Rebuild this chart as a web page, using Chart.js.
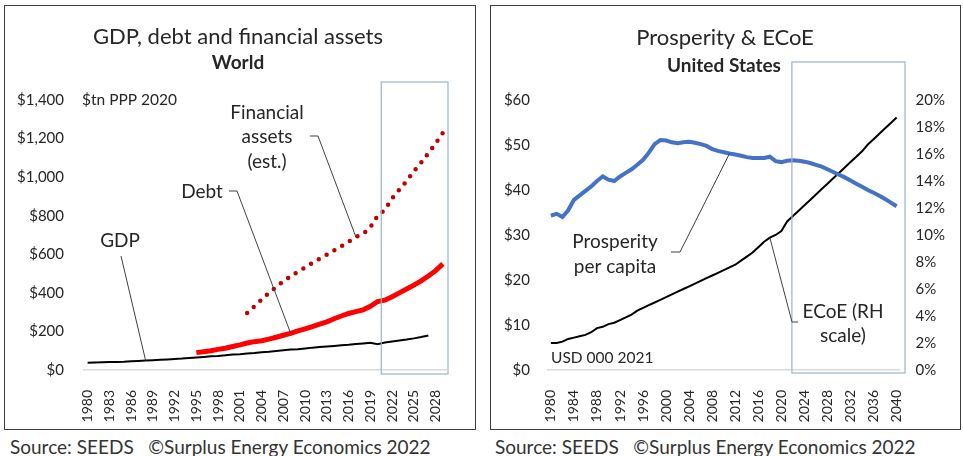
<!DOCTYPE html>
<html>
<head>
<meta charset="utf-8">
<script src="https://cdn.jsdelivr.net/npm/chart.js@4"></script>
<style>
  body { margin: 0; background: #fff; width: 963px; height: 456px; position: relative; overflow: hidden; font-family: Lato, sans-serif; }
  .box { position: absolute; border: 1.5px solid #3c3c3c; box-sizing: border-box; }
  canvas { position: absolute; top: 0; }
  .src { position: absolute; top: 435px; font-size: 19px; color: #333; white-space: pre; }
</style>
</head>
<body>
<div class="box" style="left:4px;top:5px;width:472px;height:425px"></div>
<div class="box" style="left:490px;top:5px;width:471px;height:425px"></div>
<canvas id="world" width="480" height="430" style="left:0"></canvas>
<canvas id="us" width="478" height="430" style="left:485px"></canvas>
<div class="src" style="left:10px">Source: SEEDS   ©Surplus Energy Economics 2022</div>
<div class="src" style="left:495px">Source: SEEDS   ©Surplus Energy Economics 2022</div>
<script>
// ---- World: GDP, debt and financial assets ($tn PPP 2020) ----
const worldYears = Array.from({ length: 50 }, (_, i) => String(1980 + i));

const gdpStart = 1980;
const gdp = [38, 39, 40, 41, 42, 43, 45, 47, 49, 51,
             53, 55, 57, 59, 62, 65, 68, 71, 73, 76,
             80, 82, 85, 88, 92, 95, 99, 103, 106, 107,
             112, 116, 119, 122, 125, 128, 131, 135, 138, 141,
             134, 143, 148, 153, 158, 164, 171, 179];

const debtStart = 1995;
const debt = [90, 95, 100, 107, 113, 122, 130, 140, 147, 152,
              160, 170, 180, 190, 203, 213, 225, 238, 250, 266,
              280, 293, 303, 312, 330, 355, 362, 380, 400, 420,
              440, 462, 487, 515, 550];

const assetsStart = 2002;
const assets = [295, 330, 365, 400, 430, 460, 485, 510, 532, 555,
                577, 598, 620, 642, 665, 690, 705, 740, 800, 830,
                890, 935, 980, 1030, 1075, 1125, 1175, 1230];

const worldTicks = [0, 200, 400, 600, 800, 1000, 1200, 1400];

// ---- United States: Prosperity & ECoE ----
const usYears = Array.from({ length: 61 }, (_, i) => String(1980 + i));

const prosperity = [34.3, 34.7, 34.0, 35.5, 37.8, 38.8, 39.8, 40.8, 42.0, 43.0,
                    42.3, 42.0, 43.0, 43.8, 44.6, 45.6, 46.7, 48.3, 50.2, 51.1,
                    51.0, 50.6, 50.4, 50.6, 50.7, 50.5, 50.2, 49.8, 49.1, 48.7,
                    48.4, 48.1, 47.9, 47.6, 47.3, 47.1, 47.1, 47.1, 47.4, 46.4,
                    46.2, 46.5, 46.6, 46.5, 46.3, 46.0, 45.6, 45.2, 44.6, 44.0,
                    43.4, 42.8, 42.1, 41.4, 40.7, 40.0, 39.4, 38.7, 38.0, 37.2,
                    36.4];

const ecoe = [2.0, 2.0, 2.1, 2.3, 2.4, 2.5, 2.6, 2.8, 3.1, 3.2,
              3.4, 3.5, 3.7, 3.9, 4.1, 4.4, 4.6, 4.8, 5.0, 5.2,
              5.4, 5.6, 5.8, 6.0, 6.2, 6.4, 6.6, 6.8, 7.0, 7.2,
              7.4, 7.6, 7.8, 8.1, 8.4, 8.7, 9.1, 9.5, 9.8, 10.0,
              10.3, 11.0, 11.4, 11.8, 12.2, 12.6, 13.0, 13.4, 13.8, 14.2,
              14.6, 15.0, 15.4, 15.8, 16.2, 16.7, 17.1, 17.5, 17.9, 18.3,
              18.7];

const usdTicks = [0, 10, 20, 30, 40, 50, 60];
const pctTicks = [0, 2, 4, 6, 8, 10, 12, 14, 16, 18, 20];

const FONT = 'Lato, sans-serif';
const TXT = '#262626';

function series(start, values) {
    return values.map((v, i) => ({ x: String(start + i), y: v }));
}

function text(ctx, str, x, y, size, align, bold) {
    ctx.font = (bold ? 'bold ' : '') + size + 'px ' + FONT;
    ctx.fillStyle = TXT;
    ctx.textAlign = align || 'center';
    ctx.textBaseline = 'middle';
    ctx.fillText(str, x, y);
}

function leader(ctx, pts) {
    ctx.beginPath();
    ctx.moveTo(pts[0][0], pts[0][1]);
    for (let i = 1; i < pts.length; i++) ctx.lineTo(pts[i][0], pts[i][1]);
    ctx.strokeStyle = '#404040';
    ctx.lineWidth = 1;
    ctx.stroke();
}

function forecastBox(ctx, left, top, right, bottom) {
    ctx.strokeStyle = '#9db2c8';
    ctx.lineWidth = 1.2;
    ctx.strokeRect(left, top, right - left, bottom - top);
}

const worldDecor = {
    id: 'worldDecor',
    afterDraw(chart) {
        const ctx = chart.ctx;
        const x = chart.scales.x, y = chart.scales.y;
        const area = chart.chartArea;
        ctx.save();
        text(ctx, 'GDP, debt and financial assets', 238, 37, 22);
        text(ctx, 'World', 238, 63, 19, 'center', true);
        text(ctx, '$tn PPP 2020', 82, 100, 15.5, 'left');

        const fx = (x.getPixelForValue(40) + x.getPixelForValue(41)) / 2;
        forecastBox(ctx, fx, 82, area.right + 1.5, area.bottom + 4);

        text(ctx, 'Financial', 267, 113, 19);
        text(ctx, 'assets', 267, 137, 19);
        text(ctx, '(est.)', 267, 162, 19);
        const ai = 2017 - assetsStart;
        leader(ctx, [[310, 136], [318, 136],
            [x.getPixelForValue(2017 - 1980), y.getPixelForValue(assets[ai])]]);

        text(ctx, 'Debt', 202, 192, 19);
        leader(ctx, [[229, 191], [237, 191],
            [x.getPixelForValue(2008 - 1980), y.getPixelForValue(debt[2008 - debtStart])]]);

        text(ctx, 'GDP', 120, 241, 19);
        leader(ctx, [[121, 256],
            [x.getPixelForValue(1988 - 1980), y.getPixelForValue(gdp[1988 - gdpStart])]]);
        ctx.restore();
    }
};

const usDecor = {
    id: 'usDecor',
    afterDraw(chart) {
        const ctx = chart.ctx;
        const x = chart.scales.x, y = chart.scales.y, y1 = chart.scales.y1;
        const area = chart.chartArea;
        ctx.save();
        text(ctx, 'Prosperity & ECoE', 240, 38, 22);
        text(ctx, 'United States', 239, 66, 19, 'center', true);
        text(ctx, 'USD 000 2021', 66, 358, 15.5, 'left');

        forecastBox(ctx, x.getPixelForValue(42) - 1, 62, area.right + 5.5, area.bottom + 3);

        text(ctx, 'Prosperity', 130, 242, 19);
        text(ctx, 'per capita', 130, 267, 19);
        leader(ctx, [[186, 252], [195, 252],
            [x.getPixelForValue(2011 - 1980), y.getPixelForValue(prosperity[2011 - 1980])]]);

        text(ctx, 'ECoE (RH', 358, 312, 19);
        text(ctx, 'scale)', 358, 336, 19);
        leader(ctx, [[313, 322], [307, 322],
            [x.getPixelForValue(2018 - 1980), y1.getPixelForValue(ecoe[2018 - 1980])]]);
        ctx.restore();
    }
};

const tickFont = { family: FONT, size: 14 };
const valFont = { family: FONT, size: 15 };

new Chart(document.getElementById('world'), {
    type: 'line',
    data: {
        labels: worldYears,
        datasets: [
            { label: 'GDP', data: series(gdpStart, gdp), borderColor: '#000000', borderWidth: 2, pointRadius: 0 },
            { label: 'Debt', data: series(debtStart, debt), borderColor: '#ff0000', borderWidth: 5, pointRadius: 0 },
            { label: 'Financial assets (est.)', data: series(assetsStart, assets), borderColor: '#c00000',
              borderWidth: 4.5, borderDash: [0, 9], borderCapStyle: 'round', pointRadius: 0 }
        ]
    },
    options: {
        responsive: false,
        animation: false,
        layout: { padding: { top: 100, right: 33.5, bottom: 0, left: 0 } },
        plugins: { legend: { display: false }, tooltip: { enabled: false } },
        scales: {
            x: {
                offset: true,
                grid: { display: false },
                border: { color: '#d9d9d9', width: 1.5 },
                ticks: {
                    autoSkip: false, minRotation: 90, maxRotation: 90, padding: 12,
                    font: tickFont, color: TXT,
                    callback: (v, i) => (Number(worldYears[i]) - 1980) % 3 === 0 ? worldYears[i] : null
                },
                afterFit: s => { s.height = 60; }
            },
            y: {
                min: 0, max: 1400,
                afterBuildTicks: s => { s.ticks = worldTicks.map(v => ({ value: v })); },
                grid: { display: false },
                border: { display: false },
                ticks: { padding: 12, font: valFont, color: TXT, callback: v => '$' + v.toLocaleString('en-US') },
                afterFit: s => { s.width = 84; }
            }
        }
    },
    plugins: [worldDecor]
});

new Chart(document.getElementById('us'), {
    type: 'line',
    data: {
        labels: usYears,
        datasets: [
            { label: 'Prosperity per capita', data: prosperity, yAxisID: 'y', borderColor: '#4472c4',
              borderWidth: 4, pointRadius: 0 },
            { label: 'ECoE (RH scale)', data: ecoe, yAxisID: 'y1', borderColor: '#000000',
              borderWidth: 2, pointRadius: 0 }
        ]
    },
    options: {
        responsive: false,
        animation: false,
        layout: { padding: { top: 100, right: 0, bottom: 0, left: 0 } },
        plugins: { legend: { display: false }, tooltip: { enabled: false } },
        scales: {
            x: {
                offset: true,
                grid: { display: false },
                border: { color: '#d9d9d9', width: 1.5 },
                ticks: {
                    autoSkip: false, minRotation: 90, maxRotation: 90, padding: 12,
                    font: tickFont, color: TXT,
                    callback: (v, i) => (Number(usYears[i]) - 1980) % 4 === 0 ? usYears[i] : null
                },
                afterFit: s => { s.height = 60; }
            },
            y: {
                position: 'left',
                min: 0, max: 60,
                afterBuildTicks: s => { s.ticks = usdTicks.map(v => ({ value: v })); },
                grid: { display: false },
                border: { display: false },
                ticks: { padding: 10, font: valFont, color: TXT, callback: v => '$' + v },
                afterFit: s => { s.width = 63; }
            },
            y1: {
                position: 'right',
                min: 0, max: 20,
                afterBuildTicks: s => { s.ticks = pctTicks.map(v => ({ value: v })); },
                grid: { display: false },
                border: { display: false },
                ticks: { padding: 8, font: valFont, color: TXT, callback: v => v + '%' },
                afterFit: s => { s.width = 63.5; }
            }
        }
    },
    plugins: [usDecor]
});
</script>
</body>
</html>
